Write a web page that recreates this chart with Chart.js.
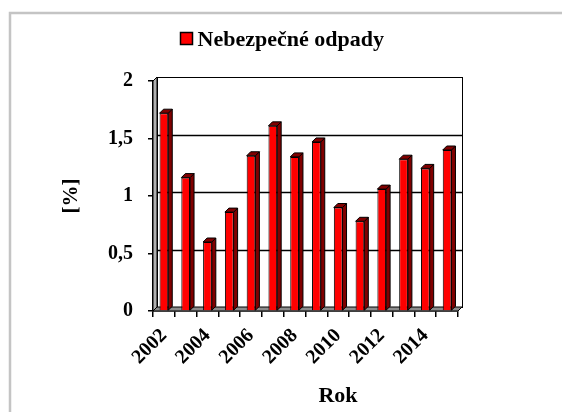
<!DOCTYPE html>
<html lang="cs">
<head>
  <meta charset="UTF-8" />
  <title>Nebezpečné odpady</title>
  <script src="https://cdn.jsdelivr.net/npm/chart.js@4.4.0/dist/chart.umd.min.js"></script>
  <style>
    html, body { margin: 0; padding: 0; background: #fff; }
    canvas { display: block; }
  </style>
</head>
<body>
  <canvas id="chart" width="562" height="412"></canvas>

  <script>
    // data
    let years = ['2002', '2003', '2004', '2005', '2006', '2007', '2008',
                 '2009', '2010', '2011', '2012', '2013', '2014', '2015'];
    let odpady = [1.72, 1.16, 0.60, 0.86, 1.35, 1.61, 1.34, 1.47, 0.90, 0.78, 1.06, 1.32, 1.24, 1.40];
    let yTicks = [0, 0.5, 1, 1.5, 2];
    let seriesName = 'Nebezpečné odpady';
    let xTitle = 'Rok';
    let yTitle = '[%]';

    const serif = '"Liberation Serif", "Times New Roman", serif';
    const dx = 4, dy = 4; // depth of the fake 3d look

    // white page + grey frame round the chart
    const frame = {
      id: 'frame',
      beforeDraw(chart) {
        const ctx = chart.ctx;
        ctx.save();
        ctx.fillStyle = '#fff';
        ctx.fillRect(0, 0, chart.width, chart.height);
        ctx.strokeStyle = '#c4c4c4';
        ctx.lineWidth = 2.5;
        ctx.strokeRect(10, 13, chart.width + 20, chart.height + 20);
        ctx.restore();
      }
    };

    // walls, floor, gridlines and the side/top faces of the bars
    const threeD = {
      id: 'threeD',
      beforeDatasetsDraw(chart) {
        const { ctx, chartArea: a, scales: { y } } = chart;
        ctx.save();
        ctx.lineWidth = 1;
        ctx.strokeStyle = '#000';

        // back wall
        ctx.fillStyle = '#fff';
        ctx.fillRect(a.left + dx, a.top - dy, a.right - a.left, a.bottom - a.top);
        ctx.strokeRect(a.left + dx + 0.5, a.top - dy + 0.5, a.right - a.left, a.bottom - a.top);

        // gridlines on the back wall
        ctx.lineWidth = 1.5;
        yTicks.forEach(v => {
          if (v === 0 || v === yTicks[yTicks.length - 1]) return;
          const py = Math.round(y.getPixelForValue(v) - dy) + 0.5;
          ctx.beginPath();
          ctx.moveTo(a.left + dx, py);
          ctx.lineTo(a.right + dx, py);
          ctx.stroke();
        });

        // left wall
        ctx.lineWidth = 1;
        ctx.fillStyle = '#b0b0b0';
        ctx.beginPath();
        ctx.moveTo(a.left, a.bottom);
        ctx.lineTo(a.left, a.top);
        ctx.lineTo(a.left + dx, a.top - dy);
        ctx.lineTo(a.left + dx, a.bottom - dy);
        ctx.closePath();
        ctx.fill();
        ctx.stroke();

        // floor
        ctx.fillStyle = '#8c8c8c';
        ctx.beginPath();
        ctx.moveTo(a.left, a.bottom);
        ctx.lineTo(a.left + dx, a.bottom - dy);
        ctx.lineTo(a.right + dx, a.bottom - dy);
        ctx.lineTo(a.right, a.bottom);
        ctx.closePath();
        ctx.fill();
        ctx.stroke();
        ctx.restore();
      },
      afterDatasetsDraw(chart) {
        const ctx = chart.ctx;
        const meta = chart.getDatasetMeta(0);
        ctx.save();
        ctx.lineWidth = 1;
        ctx.strokeStyle = '#000';
        ctx.fillStyle = '#800000';
        meta.data.forEach(bar => {
          const { x, y, base, width } = bar.getProps(['x', 'y', 'base', 'width'], true);
          const l = x - width / 2, r = x + width / 2;
          // side
          ctx.beginPath();
          ctx.moveTo(r, y);
          ctx.lineTo(r + dx, y - dy);
          ctx.lineTo(r + dx, base - dy);
          ctx.lineTo(r, base);
          ctx.closePath();
          ctx.fill();
          ctx.stroke();
          // top
          ctx.beginPath();
          ctx.moveTo(l, y);
          ctx.lineTo(l + dx, y - dy);
          ctx.lineTo(r + dx, y - dy);
          ctx.lineTo(r, y);
          ctx.closePath();
          ctx.fill();
          ctx.stroke();
        });
        ctx.restore();
      },
      afterDraw(chart) {
        const ctx = chart.ctx;
        const ds = chart.data.datasets[0];
        ctx.save();
        ctx.fillStyle = '#000';

        // legend: red box + series name
        ctx.font = 'bold 22px ' + serif;
        const tw = ctx.measureText(ds.label).width;
        const box = 12, gap = 5;
        const lx = Math.round(281.5 - (box + gap + tw) / 2) + 0.5;
        ctx.fillStyle = ds.backgroundColor;
        ctx.fillRect(lx, 32.5, box, box);
        ctx.lineWidth = 1.5;
        ctx.strokeStyle = '#000';
        ctx.strokeRect(lx, 32.5, box, box);
        ctx.fillStyle = '#000';
        ctx.textBaseline = 'alphabetic';
        ctx.textAlign = 'left';
        ctx.fillText(ds.label, lx + box + gap, 46);

        // x title sits a bit right of the plot centre in the original
        ctx.font = 'bold 22px ' + serif;
        ctx.textAlign = 'center';
        ctx.textBaseline = 'middle';
        ctx.fillText(xTitle, 338, 396);
        ctx.restore();
      }
    };

    const ctx = document.getElementById('chart').getContext('2d');
    const chart = new Chart(ctx, {
      type: 'bar',
      data: {
        labels: years,
        datasets: [{
          label: seriesName,
          data: odpady,
          backgroundColor: '#ff0000',
          borderColor: '#000',
          borderWidth: 1,
          barPercentage: 0.4,
          categoryPercentage: 1
        }]
      },
      options: {
        responsive: false,
        animation: false,
        layout: { padding: { left: 55, right: 104, top: 81, bottom: 0 } },
        plugins: {
          legend: { display: false },
          tooltip: { enabled: false }
        },
        scales: {
          x: {
            offset: true,
            afterFit: s => { s.height = 101; },
            grid: { offset: true, drawOnChartArea: false, color: '#000', tickLength: 6, lineWidth: 1.5 },
            border: { color: '#000', width: 1.5 },
            ticks: {
              autoSkip: false,
              minRotation: 45,
              maxRotation: 45,
              padding: 7,
              color: '#000',
              font: { family: serif, size: 20, weight: 'bold' },
              callback: function (v, i) { return i % 2 === 0 ? this.getLabelForValue(v) : ''; }
            }
          },
          y: {
            min: 0,
            max: 2,
            afterFit: s => { s.width = 98; },
            afterBuildTicks: s => { s.ticks = yTicks.map(v => ({ value: v })); },
            grid: { drawOnChartArea: false, color: '#000', tickLength: 5, lineWidth: 1.5 },
            border: { color: '#000', width: 1.5 },
            title: {
              display: true,
              text: yTitle,
              color: '#000',
              font: { family: serif, size: 21, weight: 'bold' }
            },
            ticks: {
              padding: 15,
              color: '#000',
              font: { family: serif, size: 20, weight: 'bold' },
              callback: v => String(v).replace('.', ',')
            }
          }
        }
      },
      plugins: [frame, threeD]
    });
  </script>
</body>
</html>
